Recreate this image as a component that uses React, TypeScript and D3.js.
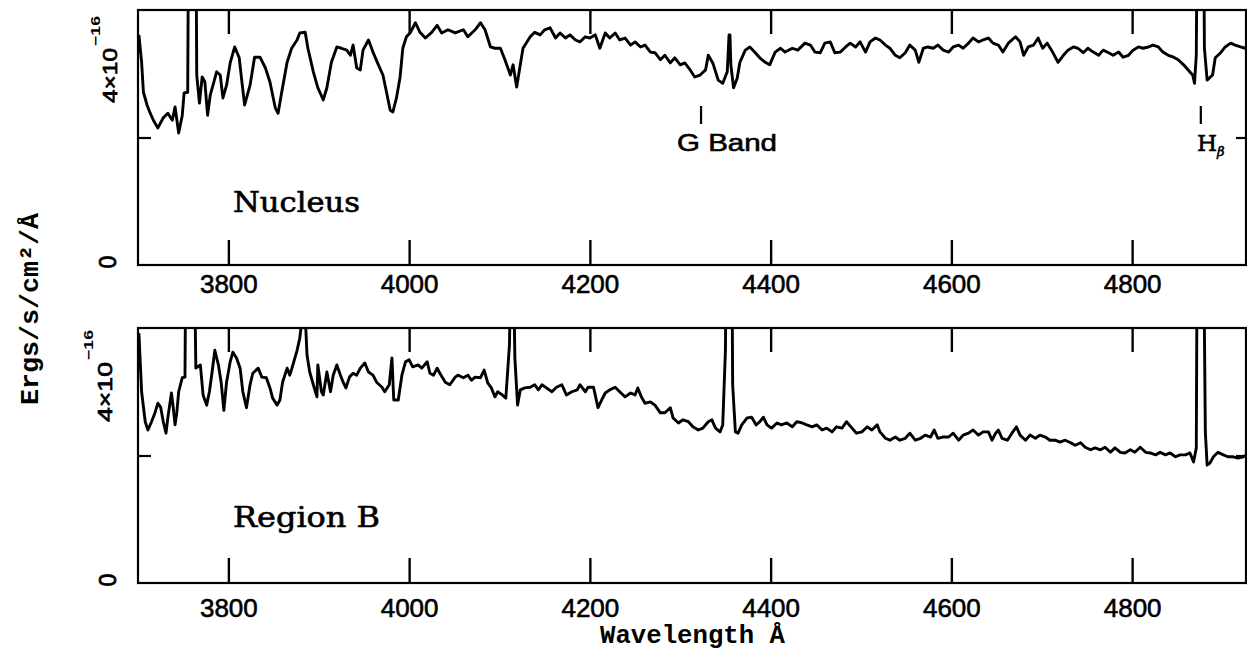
import * as d3 from "d3";
import { useEffect, useRef } from "react";

// spectra: wavelength in Angstrom, flux in units of 1e-16 erg/s/cm2/A
// (values above 4 are the emission spikes that run off the top of the frame)
const nucleusWave = [3701,3704,3706,3710,3713,3717,3722,3728,3733,3738,3741,3745,3749,3751,3755,3756,3764,3765,3768,3771,3774,3777,3780,3783,3787,3791,3794,3798,3802,3807,3812,3815,3818,3824,3829,3835,3841,3846,3852,3855,3859,3865,3870,3876,3879,3885,3888,3894,3899,3905,3909,3914,3920,3925,3931,3935,3938,3942,3946,3949,3955,3960,3966,3971,3975,3979,3982,3986,3990,3993,3997,4001,4007,4012,4018,4025,4031,4036,4043,4051,4060,4065,4073,4079,4084,4090,4095,4101,4106,4112,4115,4119,4123,4126,4134,4139,4145,4150,4156,4162,4167,4173,4178,4184,4189,4195,4200,4206,4211,4217,4222,4228,4233,4239,4245,4250,4256,4261,4267,4272,4278,4283,4289,4294,4300,4305,4311,4316,4322,4328,4331,4336,4342,4347,4352,4354,4355,4356,4359,4363,4366,4372,4377,4383,4388,4394,4399,4405,4411,4416,4424,4430,4438,4444,4449,4455,4460,4466,4471,4477,4483,4488,4494,4499,4505,4510,4516,4521,4527,4532,4538,4543,4549,4554,4560,4564,4569,4574,4580,4585,4591,4597,4602,4608,4613,4619,4624,4630,4635,4641,4646,4652,4657,4663,4671,4676,4680,4685,4691,4696,4701,4706,4712,4718,4724,4729,4735,4740,4746,4751,4757,4763,4768,4774,4779,4785,4790,4796,4801,4807,4812,4818,4823,4829,4834,4840,4846,4851,4857,4862,4867,4869,4871,4872,4879,4880,4883,4889,4892,4898,4903,4909,4914,4920,4925];
const nucleusFlux = [3.61,3.18,2.71,2.51,2.40,2.27,2.15,2.31,2.38,2.27,2.48,2.07,2.35,2.70,2.71,5.5,5.5,2.98,2.54,2.95,2.87,2.35,2.67,2.82,3.03,2.98,2.62,2.82,3.17,3.42,3.25,2.87,2.51,2.82,3.26,3.26,3.09,2.87,2.46,2.38,2.71,3.18,3.40,3.53,3.64,3.65,3.40,3.03,2.78,2.59,2.78,3.18,3.42,3.40,3.37,3.29,3.45,3.09,3.06,3.37,3.53,3.34,3.14,2.98,2.71,2.43,2.40,2.62,2.95,3.40,3.58,3.64,3.80,3.65,3.56,3.65,3.76,3.64,3.69,3.64,3.69,3.58,3.69,3.80,3.69,3.42,3.40,3.40,3.22,2.98,3.14,2.79,3.14,3.40,3.58,3.65,3.61,3.69,3.72,3.56,3.64,3.56,3.61,3.53,3.50,3.58,3.56,3.61,3.40,3.64,3.56,3.64,3.53,3.56,3.45,3.50,3.42,3.45,3.34,3.33,3.22,3.29,3.17,3.25,3.14,3.17,3.06,2.95,2.98,3.06,3.29,3.17,2.90,2.85,3.03,3.61,3.61,3.14,2.78,2.93,3.18,3.37,3.42,3.33,3.25,3.18,3.14,3.34,3.40,3.34,3.40,3.37,3.48,3.45,3.34,3.33,3.48,3.50,3.33,3.34,3.42,3.48,3.42,3.50,3.34,3.50,3.56,3.53,3.45,3.40,3.29,3.25,3.33,3.45,3.37,3.18,3.40,3.42,3.40,3.45,3.37,3.34,3.42,3.45,3.40,3.48,3.56,3.50,3.53,3.56,3.48,3.45,3.34,3.48,3.58,3.50,3.29,3.42,3.45,3.56,3.40,3.48,3.34,3.18,3.29,3.37,3.42,3.40,3.33,3.40,3.34,3.29,3.37,3.33,3.29,3.34,3.26,3.29,3.37,3.42,3.40,3.42,3.45,3.42,3.34,3.29,3.26,3.22,3.14,3.06,2.98,2.85,3.29,5.5,5.5,3.40,2.90,2.98,3.25,3.33,3.42,3.48,3.45,3.42,3.40];

const regionBWave = [3701,3704,3708,3711,3715,3719,3722,3725,3728,3731,3733,3737,3739,3741,3743,3745,3749,3752,3753,3762,3764,3769,3772,3776,3779,3782,3785,3789,3792,3795,3798,3802,3805,3809,3813,3816,3820,3824,3827,3833,3837,3842,3846,3849,3854,3857,3860,3865,3868,3872,3876,3879,3882,3885,3887,3890,3894,3898,3899,3903,3905,3909,3913,3916,3920,3924,3927,3930,3934,3938,3942,3946,3951,3955,3960,3964,3970,3973,3978,3981,3983,3988,3992,3996,4000,4004,4010,4014,4020,4023,4027,4031,4034,4040,4045,4051,4054,4060,4065,4069,4073,4079,4083,4087,4091,4095,4098,4103,4107,4111,4113,4115,4117,4120,4123,4128,4134,4139,4143,4147,4152,4158,4163,4169,4174,4180,4186,4189,4195,4198,4204,4209,4213,4217,4222,4228,4233,4239,4245,4250,4253,4257,4261,4267,4272,4278,4283,4289,4292,4298,4303,4309,4314,4320,4325,4331,4335,4339,4344,4347,4350,4351,4357,4358,4361,4364,4368,4374,4379,4384,4388,4392,4396,4401,4407,4412,4418,4424,4429,4435,4440,4446,4451,4457,4462,4468,4473,4479,4484,4490,4495,4501,4507,4512,4518,4521,4527,4532,4538,4543,4549,4554,4560,4566,4571,4577,4581,4585,4591,4597,4602,4608,4613,4619,4624,4630,4635,4641,4645,4649,4652,4656,4662,4667,4672,4676,4682,4687,4693,4698,4704,4709,4715,4720,4726,4732,4737,4743,4748,4754,4759,4765,4770,4776,4781,4787,4792,4798,4803,4809,4815,4820,4826,4831,4837,4842,4848,4853,4859,4864,4868,4871,4872,4879,4881,4883,4886,4890,4895,4901,4906,4912,4917,4923,4927];
const regionBFlux = [3.92,3.00,2.53,2.40,2.53,2.68,2.82,2.76,2.53,2.35,2.59,2.98,2.75,2.48,2.68,3.00,3.22,3.23,5.5,5.5,3.37,3.42,2.95,2.79,3.00,3.31,3.65,3.42,3.15,2.71,3.15,3.47,3.62,3.53,3.37,3.00,2.75,3.11,3.29,3.37,3.23,3.22,3.06,2.90,2.79,2.87,3.15,3.37,3.26,3.45,3.65,3.84,4.2,4.2,3.58,3.31,3.11,2.92,3.42,3.00,2.95,3.31,3.00,3.26,3.42,3.26,3.15,3.06,3.23,3.29,3.26,3.37,3.45,3.31,3.26,3.15,3.07,3.00,3.11,3.53,2.87,2.87,3.26,3.47,3.50,3.39,3.42,3.37,3.47,3.29,3.26,3.37,3.29,3.15,3.11,3.23,3.26,3.22,3.26,3.18,3.23,3.22,3.34,3.14,3.06,2.92,3.00,2.95,2.90,3.73,5.5,5.5,3.53,2.79,3.03,3.06,3.07,3.11,3.03,3.11,3.06,3.00,3.07,3.11,2.95,3.00,3.03,3.11,3.00,3.07,3.07,2.75,2.87,2.98,3.03,3.07,3.00,2.92,2.98,2.95,3.06,2.92,2.82,2.84,2.79,2.67,2.67,2.75,2.59,2.51,2.56,2.53,2.45,2.40,2.43,2.53,2.56,2.43,2.37,2.48,3.65,5.5,5.5,3.11,2.37,2.35,2.48,2.59,2.60,2.48,2.53,2.60,2.48,2.43,2.51,2.48,2.51,2.45,2.53,2.51,2.48,2.45,2.48,2.40,2.43,2.37,2.45,2.43,2.53,2.43,2.35,2.37,2.45,2.40,2.48,2.37,2.27,2.24,2.29,2.24,2.27,2.35,2.24,2.27,2.32,2.29,2.40,2.27,2.29,2.29,2.35,2.24,2.32,2.35,2.40,2.32,2.37,2.37,2.24,2.35,2.40,2.27,2.24,2.35,2.45,2.32,2.24,2.32,2.27,2.32,2.29,2.24,2.24,2.21,2.24,2.20,2.16,2.20,2.13,2.09,2.12,2.09,2.13,2.05,2.12,2.05,2.04,2.09,2.05,2.13,2.05,2.04,2.01,2.05,2.01,2.04,1.98,2.01,2.01,2.04,1.90,2.12,5.5,5.5,2.37,1.85,1.88,1.98,2.05,2.01,1.98,1.98,1.96,1.98,2.01];

const xTicks = [3800, 4000, 4200, 4400, 4600, 4800];
const panelNames = ["Nucleus", "Region B"];
const markWaves = [4323, 4876];
const markLabels = ["G Band", "H"];

export default function App() {
  const ref = useRef<SVGSVGElement>(null);

  useEffect(() => {
    const svg = d3.select(ref.current);
    svg.selectAll("*").remove();

    const left = 138, right = 1246;
    const x = d3.scaleLinear().domain([3700, 4926]).range([left, right]);
    const sans = "Liberation Sans, Arial, sans-serif";

    const panels = [
      { top: 10, bottom: 265, wave: nucleusWave, flux: nucleusFlux, labelPad: 9.5, nameY: 212, nameLen: 127, expX: 117, expStart: 103, expLen: 55, supX: 100 },
      { top: 328, bottom: 583, wave: regionBWave, flux: regionBFlux, labelPad: 15.5, nameY: 527, nameLen: 147, expX: 112, expStart: 422, expLen: 60, supX: 93 },
    ];

    panels.forEach((p, i) => {
      const y = d3.scaleLinear().domain([0, 4]).range([p.bottom, p.top]);
      const g = svg.append("g");

      g.append("clipPath").attr("id", `clip${i}`)
        .append("rect")
        .attr("x", left).attr("y", p.top)
        .attr("width", right - left).attr("height", p.bottom - p.top);

      const pts = p.wave.map((w, k) => [w, p.flux[k]] as [number, number]);
      const line = d3.line<[number, number]>().x(d => x(d[0])).y(d => y(d[1]));
      g.append("path")
        .datum(pts)
        .attr("d", line)
        .attr("clip-path", `url(#clip${i})`)
        .attr("fill", "none")
        .attr("stroke", "#000")
        .attr("stroke-width", 2.9)
        .attr("stroke-linejoin", "round");

      // frame
      g.append("rect")
        .attr("x", left).attr("y", p.top)
        .attr("width", right - left).attr("height", p.bottom - p.top)
        .attr("fill", "none").attr("stroke", "#000").attr("stroke-width", 2.2);

      // bottom axis, ticks pointing in
      const xb = g.append("g")
        .attr("transform", `translate(0,${p.bottom})`)
        .call(d3.axisBottom(x).tickValues(xTicks).tickSizeInner(-25).tickSizeOuter(0).tickPadding(p.labelPad).tickFormat(d3.format("d")));
      xb.select(".domain").remove();
      xb.selectAll("line").attr("stroke-width", 2.4);
      xb.selectAll("text")
        .attr("font-family", sans)
        .attr("font-size", 26)
        .attr("fill", "#000")
        .attr("stroke", "#000")
        .attr("stroke-width", 0.6);

      const xt = g.append("g")
        .attr("transform", `translate(0,${p.top})`)
        .call(d3.axisTop(x).tickValues(xTicks).tickSizeInner(-24).tickSizeOuter(0).tickFormat(() => ""));
      xt.select(".domain").remove();
      xt.selectAll("line").attr("stroke-width", 2.4);

      const yl = g.append("g")
        .attr("transform", `translate(${left},0)`)
        .call(d3.axisLeft(y).tickValues([2]).tickSizeInner(-13).tickSizeOuter(0).tickFormat(() => ""));
      yl.select(".domain").remove();
      yl.selectAll("line").attr("stroke-width", 2.2);

      const yr = g.append("g")
        .attr("transform", `translate(${right},0)`)
        .call(d3.axisRight(y).tickValues([2]).tickSizeInner(-10).tickSizeOuter(0).tickFormat(() => ""));
      yr.select(".domain").remove();
      yr.selectAll("line").attr("stroke-width", 2.2);

      // y labels, rotated
      g.append("text")
        .attr("transform", `translate(${p.expX},${p.expStart}) rotate(-90)`)
        .attr("font-family", sans)
        .attr("font-size", 21)
        .attr("stroke", "#000").attr("stroke-width", 0.7)
        .attr("textLength", p.expLen)
        .attr("lengthAdjust", "spacingAndGlyphs")
        .text("4×10");
      g.append("text")
        .attr("transform", `translate(${p.supX},${p.expStart - p.expLen - 2}) rotate(-90)`)
        .attr("font-family", sans)
        .attr("font-size", 13)
        .attr("font-weight", "bold")
        .attr("textLength", 30)
        .attr("lengthAdjust", "spacingAndGlyphs")
        .text("−16");
      g.append("text")
        .attr("transform", `translate(116,${y(0) - 3}) rotate(-90)`)
        .attr("text-anchor", "middle")
        .attr("font-family", sans)
        .attr("font-size", 23)
        .attr("stroke", "#000").attr("stroke-width", 0.8)
        .text("0");

      g.append("text")
        .attr("x", 233).attr("y", p.nameY)
        .attr("font-family", "DejaVu Serif, serif")
        .attr("font-size", 27)
        .attr("stroke", "#000").attr("stroke-width", 0.6)
        .attr("textLength", p.nameLen)
        .attr("lengthAdjust", "spacingAndGlyphs")
        .text(panelNames[i]);
    });

    // line identifications in the nucleus panel
    markWaves.forEach(w => {
      svg.append("line")
        .attr("x1", x(w)).attr("x2", x(w))
        .attr("y1", 106).attr("y2", 124)
        .attr("stroke", "#000").attr("stroke-width", 2.2);
    });
    svg.append("text")
      .attr("x", 677).attr("y", 151)
      .attr("font-family", sans)
      .attr("font-size", 24)
      .attr("textLength", 100)
      .attr("lengthAdjust", "spacingAndGlyphs")
      .attr("stroke", "#000").attr("stroke-width", 0.6)
      .text(markLabels[0]);
    const hb = svg.append("text")
      .attr("x", 1197).attr("y", 151)
      .attr("font-family", "DejaVu Serif, serif")
      .attr("font-size", 23)
      .attr("stroke", "#000").attr("stroke-width", 0.6);
    hb.append("tspan").text(markLabels[1]);
    hb.append("tspan").attr("dy", 5).attr("font-size", 13).attr("font-style", "italic").text("β");

    // axis titles
    svg.append("text")
      .attr("x", 600).attr("y", 643)
      .attr("font-family", "Liberation Mono, Courier New, monospace")
      .attr("font-weight", "bold")
      .attr("font-size", 25)
      .attr("textLength", 185)
      .attr("lengthAdjust", "spacingAndGlyphs")
      .text("Wavelength Å");
    svg.append("text")
      .attr("transform", "translate(38,405) rotate(-90)")
      .attr("font-family", "Liberation Mono, Courier New, monospace")
      .attr("font-weight", "bold")
      .attr("font-size", 25)
      .attr("textLength", 192)
      .attr("lengthAdjust", "spacingAndGlyphs")
      .text("Ergs/s/cm²/Å");
  }, []);

  return (
    <svg
      ref={ref}
      width={1247}
      height={650}
      style={{ position: "absolute", left: 0, top: 0, background: "#fff" }}
    />
  );
}
